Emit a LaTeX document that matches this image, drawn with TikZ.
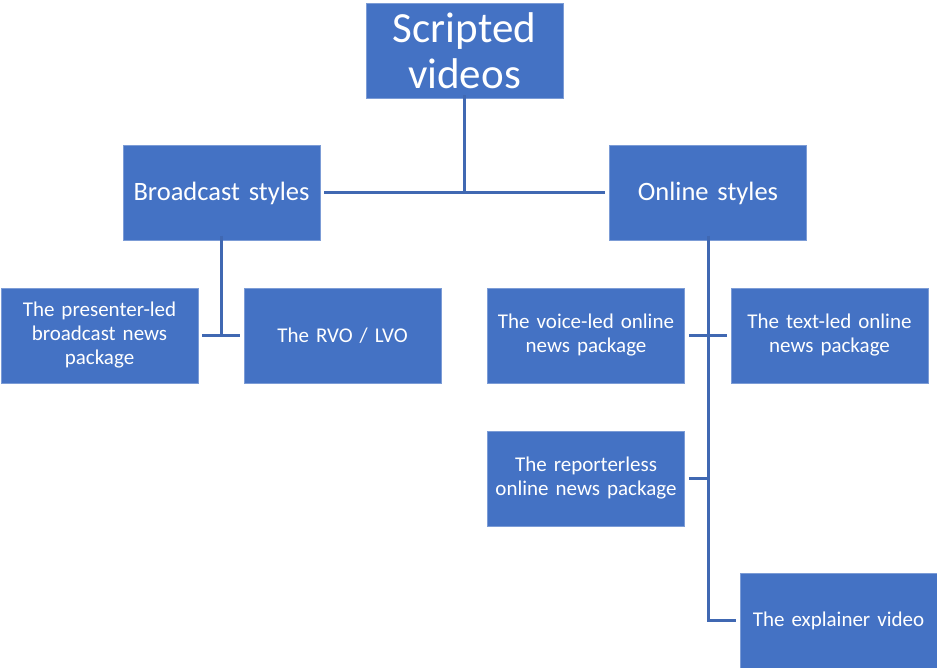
\documentclass[tikz,border=0pt]{standalone}
\usepackage{fontspec}
\setmainfont{Carlito}
\definecolor{boxblue}{HTML}{4472C4}
\definecolor{lineblue}{HTML}{4068B2}
\begin{document}
\begin{tikzpicture}[x=1pt,y=-1pt,
  box/.style={fill=boxblue,draw=boxblue!70!white,line width=0.6pt,text=white,minimum width=197pt,minimum height=95pt,inner sep=2pt,align=center,font=\fontsize{21}{24}\selectfont,text width=193pt},
  link/.style={draw=lineblue,line width=3pt}]
\useasboundingbox (0,0) rectangle (937,668);
\node[box,font=\fontsize{43}{46}\selectfont] (sv) at (464.5,50.5) {Scripted\\videos};
\node[box,font=\fontsize{26.5}{30}\selectfont] (bs) at (221.5,193) {Broadcast styles};
\node[box,font=\fontsize{26.5}{30}\selectfont] (os) at (708,193) {Online styles};
\node[box] (pl) at (99.5,335.5) {The presenter-led\\broadcast news\\package};
\node[box] (rvo) at (342.5,335.5) {The RVO / LVO};
\node[box] (vl) at (586,335.5) {The voice-led online\\news package};
\node[box] (tl) at (829.5,335.5) {The text-led online\\news package};
\node[box] (rl) at (586,478.5) {The reporterless\\online news package};
\node[box] (ex) at (838.5,620.5) {The explainer video};
\coordinate (top) at ([yshift=3pt]sv.south);
\coordinate (mid) at (top |- bs.east);
\draw[link] (top) -- (mid);
\draw[link] ([xshift=4pt]bs.east) -- ([xshift=-4pt]os.west);
\coordinate (bt) at ([yshift=5pt]bs.south);
\coordinate (bm) at (bt |- pl.east);
\draw[link] (bt) -- (bm);
\draw[link] ([xshift=4pt]pl.east) -- ([xshift=-4pt]rvo.west);
\coordinate (ot) at ([yshift=5pt]os.south);
\coordinate (ob) at (ot |- ex.west);
\draw[link] (ot) -- (ob) -- ([xshift=-4pt]ex.west);
\draw[link] ([xshift=4pt]vl.east) -- ([xshift=-4pt]tl.west);
\draw[link] ([xshift=4pt]rl.east) -- (ot |- rl.east);
\end{tikzpicture}
\end{document}
